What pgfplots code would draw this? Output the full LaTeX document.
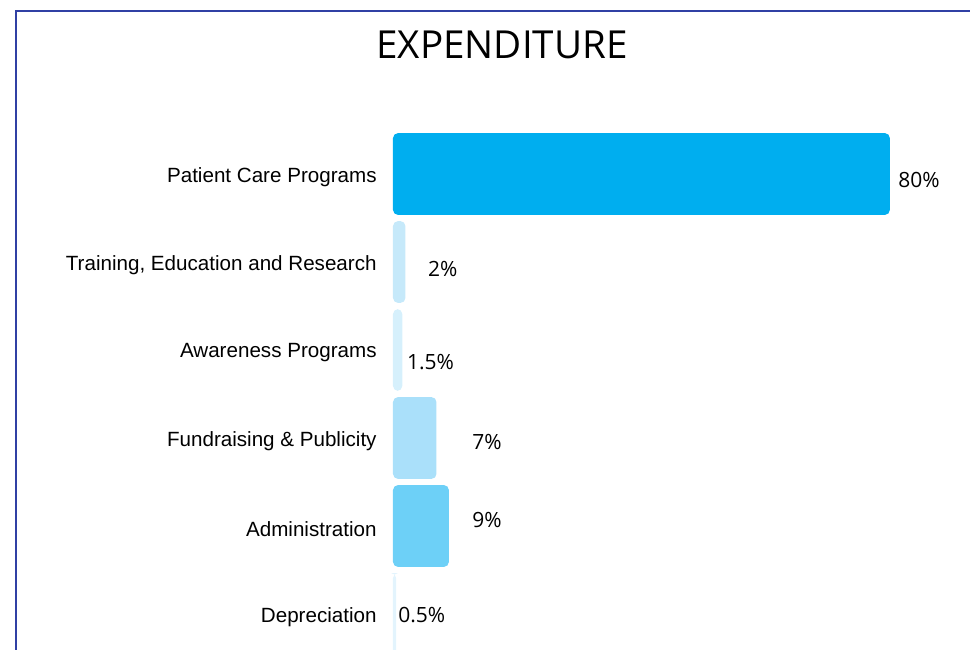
\documentclass[border=0pt]{standalone}
\usepackage{pgfplots}
\pgfplotsset{compat=1.18}
\usepackage{fontspec}
\setmainfont{Liberation Sans}
\newfontfamily\valfont{Open Sans}

\definecolor{framec}{HTML}{3040A4}
\definecolor{c1}{HTML}{00AEEF}
\definecolor{c2}{HTML}{C6E9FA}
\definecolor{c3}{HTML}{D6F0FC}
\definecolor{c4}{HTML}{AAE0FA}
\definecolor{c5}{HTML}{6DD0F7}
\definecolor{c6}{HTML}{E3F4FD}

\begin{document}
\begin{tikzpicture}
% canvas: 970x649 px at 0.5pt per px
\path[use as bounding box] (0,0) rectangle (485pt,-324.5pt);
\clip (0,0) rectangle (485pt,-324.5pt);

\begin{axis}[
  scale only axis,
  anchor=north west, at={(196.5pt,-65pt)},
  width=279.5pt, height=264pt,
  xmin=0, xmax=90,
  ymin=-0.5, ymax=5.5, y dir=reverse,
  xtick=\empty,
  ytick={0,1,2,3,4,5},
  yticklabels={Patient Care Programs, {Training, Education and Research}, Awareness Programs, Fundraising \& Publicity, Administration, Depreciation},
  y tick label style={font=\fontsize{10.3}{12}\selectfont, inner sep=0pt, xshift=-8pt, yshift=-1.5pt},
  major tick length=0pt,
  tick style={draw=none},
  axis line style={draw=none},
  clip=false,
  mybar/.style={xbar, bar width=0.93, bar shift=0pt, draw=none, rounded corners=2.5pt},
]
\addplot[mybar, fill=c1] coordinates {(80,0)};
\addplot[mybar, fill=c2] coordinates {(2,1)};
\addplot[mybar, fill=c3] coordinates {(1.5,2)};
\addplot[mybar, fill=c4] coordinates {(7,3)};
\addplot[mybar, fill=c5] coordinates {(9,4)};
\addplot[mybar, fill=c6] coordinates {(0.5,5)};
% value labels, placed as in the original
\addplot[draw=none, mark=none, nodes near coords, point meta=explicit symbolic,
  every node near coord/.style={anchor=west, inner sep=0pt, font=\valfont\fontsize{10.5}{12}\selectfont}]
  table[x=lx, y=ly, meta=lab] {
lx   ly   lab
81.3 0.07 80\%
5.6  1.08 2\%
2.2  2.14 1.5\%
12.7 3.05 7\%
12.7 3.93 9\%
0.8  5.01 0.5\%
};
\end{axis}

\node[font=\valfont\fontsize{19.3}{22}\selectfont] at (251pt,-22.5pt) {EXPENDITURE};
\draw[framec, line width=1.3pt] (8pt,-330pt) -- (8pt,-5.5pt) -- (490pt,-5.5pt);
\end{tikzpicture}
\end{document}
